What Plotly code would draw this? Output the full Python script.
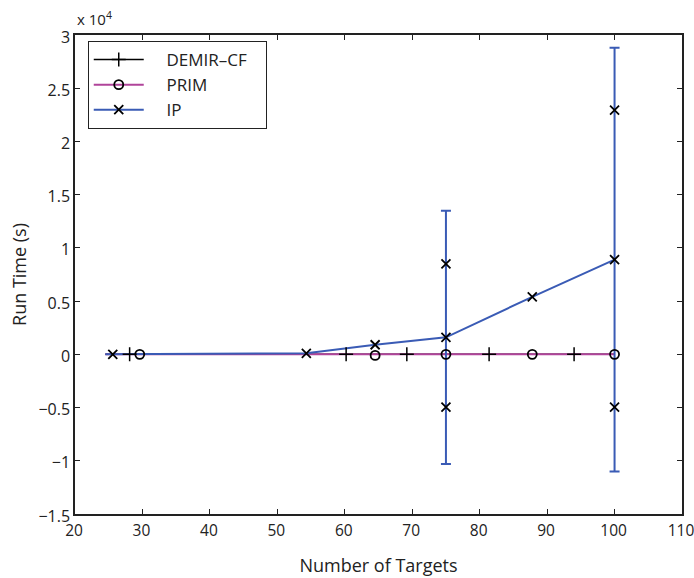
import plotly.graph_objects as go

# Series data (run time in seconds)
ip_line_x = [24.5, 54.3, 64.5, 75, 87.8, 100]
ip_line_y = [0, 100, 900, 1600, 5400, 8900]
ip_mark_x = [25.6, 54.3, 64.5, 75, 87.8, 100]
ip_mark_y = [0, 100, 900, 1600, 5400, 8900]
ip_err_x = [75, 100]
ip_err_y = [1600, 8900]
ip_err = [11900, 19900]
ip_extra_x = [75, 75, 100, 100]
ip_extra_y = [8500, -4950, 22950, -4950]

prim_line_x = [24.5, 100]
prim_line_y = [0, 0]
prim_mark_x = [29.6, 64.5, 75, 87.8, 100]
prim_mark_y = [0, -100, 0, 0, 0]

demir_line_x = [24.5, 100]
demir_line_y = [0, 0]
demir_mark_x = [28.1, 60.2, 69.2, 81.4, 94.0]
demir_mark_y = [0, 0, 0, 0, 0]

series_names = ["DEMIR\u2013CF", "PRIM", "IP"]

ytick_vals = [-15000, -10000, -5000, 0, 5000, 10000, 15000, 20000, 25000, 30000]
ytick_text = ["\u22121.5", "\u22121", "\u22120.5", "0", "0.5", "1", "1.5", "2", "2.5", "3"]
xtick_vals = [20, 30, 40, 50, 60, 70, 80, 90, 100, 110]

BLUE = "#3A5BB5"
PURPLE = "#B0449A"
BLACK = "#000000"
FONT = "Open Sans"
TXT = "#222"
PAD_L = "\u00a0" * 4
PAD_R = "\u00a0" * 3

fig = go.Figure()

# data lines (no legend)
fig.add_trace(go.Scatter(x=demir_line_x, y=demir_line_y, mode="lines",
                         line=dict(color=BLACK, width=1.5), showlegend=False, hoverinfo="skip"))
fig.add_trace(go.Scatter(x=prim_line_x, y=prim_line_y, mode="lines",
                         line=dict(color=PURPLE, width=2), showlegend=False, hoverinfo="skip"))
fig.add_trace(go.Scatter(x=ip_err_x, y=ip_err_y, mode="lines",
                         line=dict(color="rgba(0,0,0,0)", width=0),
                         error_y=dict(type="data", array=ip_err, color=BLUE, thickness=2, width=5),
                         showlegend=False, hoverinfo="skip"))
fig.add_trace(go.Scatter(x=ip_line_x, y=ip_line_y, mode="lines",
                         line=dict(color=BLUE, width=2), showlegend=False, hoverinfo="skip"))

# markers
fig.add_trace(go.Scatter(x=demir_mark_x, y=demir_mark_y, mode="markers",
                         marker=dict(symbol="cross-thin-open", size=10, color=BLACK,
                                     line=dict(color=BLACK, width=1.5)),
                         showlegend=False))
fig.add_trace(go.Scatter(x=prim_mark_x, y=prim_mark_y, mode="markers",
                         marker=dict(symbol="circle-open", size=9, color=BLACK,
                                     line=dict(color=BLACK, width=1.8)),
                         showlegend=False))
fig.add_trace(go.Scatter(x=ip_mark_x + ip_extra_x, y=ip_mark_y + ip_extra_y, mode="markers",
                         marker=dict(symbol="x-thin-open", size=9, color=BLACK,
                                     line=dict(color=BLACK, width=1.8)),
                         showlegend=False))

# legend-only entries
fig.add_trace(go.Scatter(x=[None], y=[None], mode="lines+markers",
                         name=PAD_L + series_names[0] + PAD_R,
                         line=dict(color=BLACK, width=1.5),
                         marker=dict(symbol="cross-thin-open", size=10, color=BLACK,
                                     line=dict(color=BLACK, width=1.5))))
fig.add_trace(go.Scatter(x=[None], y=[None], mode="lines+markers",
                         name=PAD_L + series_names[1],
                         line=dict(color=PURPLE, width=2),
                         marker=dict(symbol="circle-open", size=9, color=BLACK,
                                     line=dict(color=BLACK, width=1.8))))
fig.add_trace(go.Scatter(x=[None], y=[None], mode="lines+markers",
                         name=PAD_L + series_names[2],
                         line=dict(color=BLUE, width=2),
                         marker=dict(symbol="x-thin-open", size=9, color=BLACK,
                                     line=dict(color=BLACK, width=1.8))))

fig.update_layout(
    width=694, height=578,
    margin=dict(l=75, r=12, t=35, b=64, autoexpand=False),
    paper_bgcolor="white", plot_bgcolor="white",
    font=dict(family=FONT, size=15, color=TXT),
    showlegend=True,
    legend=dict(x=0.021, y=0.9875, xanchor="left", yanchor="top",
                bgcolor="white", bordercolor=TXT, borderwidth=1,
                font=dict(family=FONT, size=17, color=TXT),
                tracegroupgap=0, itemwidth=50),
    xaxis=dict(range=[20, 110], tickvals=xtick_vals, ticks="inside", ticklen=5,
               tickcolor=TXT, showline=True, linecolor=TXT, linewidth=1.5,
               mirror="ticks", showgrid=False, zeroline=False, automargin=False,
               ticklabeloverflow="allow", ticklabelshift=-1, ticklabelstandoff=2,
               title=dict(text="Number of Targets", font=dict(size=18), standoff=19),
               tickfont=dict(size=15.5)),
    yaxis=dict(range=[-15000, 30000], tickvals=ytick_vals, ticktext=ytick_text,
               ticks="inside", ticklen=5, tickcolor=TXT, showline=True,
               linecolor=TXT, linewidth=1.5, mirror="ticks", showgrid=False,
               zeroline=False, automargin=False, ticklabeloverflow="allow",
               ticklabelshift=2,
               title=dict(text="Run Time (s)", font=dict(size=18), standoff=7),
               tickfont=dict(size=16)),
    annotations=[dict(text="x 10<sup>4</sup>", xref="paper", yref="paper",
                      x=0.0, y=1.0, xanchor="left", yanchor="bottom", yshift=4,
                      showarrow=False, font=dict(family=FONT, size=15, color=TXT))],
)

fig.write_html("out.html", config={"displayModeBar": False},
               post_script="document.body.style.margin='0';document.body.style.overflow='hidden';")
